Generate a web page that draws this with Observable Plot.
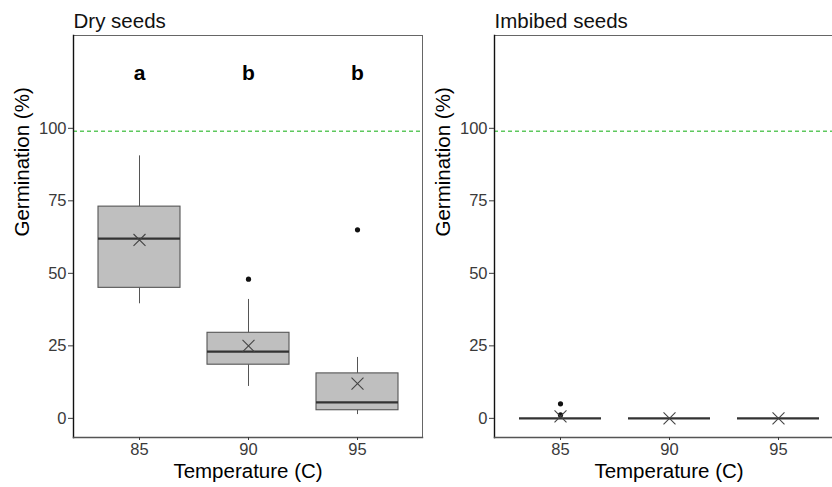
<!DOCTYPE html>
<html>
<head>
<meta charset="utf-8">
<script src="https://cdn.jsdelivr.net/npm/d3@7"></script>
<script src="https://cdn.jsdelivr.net/npm/@observablehq/plot@0.6"></script>
<style>
  html, body { margin: 0; padding: 0; background: #fff; }
  #wrap { width: 832px; height: 487px; overflow: hidden; display: flex; flex-wrap: nowrap; }
  #wrap svg { flex: none; }
</style>
</head>
<body>
<div id="wrap"></div>
<script>
// ---- data ----
const temps = ["85", "90", "95"];
const yTicks = [0, 25, 50, 75, 100];
const referenceLine = 99;
const panelTitles = ["Dry seeds", "Imbibed seeds"];
const xTitle = "Temperature (C)";
const yTitle = "Germination (%)";

// Dry seeds
const dryLower  = [39.5, 11, 1.3];
const dryQ1     = [45, 18.5, 2.8];
const dryMedian = [62, 23, 5.5];
const dryQ3     = [73, 29.5, 15.5];
const dryUpper  = [90.5, 41, 21];
const dryMean   = [61.5, 25, 12];
const dryOutlierTemps  = ["90", "95"];
const dryOutlierValues = [48, 65];
const dryLetters = ["a", "b", "b"];
const letterY = 119;

// Imbibed seeds
const impLower  = [0, 0, 0];
const impQ1     = [0, 0, 0];
const impMedian = [0, 0, 0];
const impQ3     = [0, 0, 0];
const impUpper  = [0, 0, 0];
const impMean   = [0.7, 0, 0];
const impOutlierTemps  = ["85", "85"];
const impOutlierValues = [5, 1.2];

function table(lower, q1, med, q3, upper, mean) {
  return temps.map((t, i) => ({temp: t, lo: lower[i], q1: q1[i], med: med[i], q3: q3[i], hi: upper[i], mean: mean[i]}));
}

const FONT = "'Liberation Sans', Arial, sans-serif";

function panel({title, data, outliers, letters, marginLeft, marginRight, width}) {
  const marks = [
    Plot.ruleY([referenceLine], {stroke: "#5ec85e", strokeWidth: 1.4, strokeDasharray: "4,3"}),
    // whiskers
    Plot.ruleX(data, {x: "temp", y1: "q3", y2: "hi", stroke: "#555", strokeWidth: 1}),
    Plot.ruleX(data, {x: "temp", y1: "lo", y2: "q1", stroke: "#555", strokeWidth: 1}),
    // boxes
    Plot.barY(data, {x: "temp", y1: "q1", y2: "q3", fill: "#bfbfbf", stroke: "#555", strokeWidth: 1.1}),
    // medians
    Plot.tickY(data, {x: "temp", y: "med", stroke: "#333", strokeWidth: 2.2}),
    // outliers
    Plot.dot(outliers, {x: "temp", y: "v", r: 2.6, fill: "#111", stroke: null}),
    // means
    Plot.dot(data, {x: "temp", y: "mean", symbol: "times", r: 5.5, stroke: "#444", strokeWidth: 1.1}),
    // frame and axes
    Plot.frame({stroke: "#666", strokeWidth: 1}),
    Plot.frame({anchor: "left", stroke: "#111", strokeWidth: 1.4}),
    Plot.frame({anchor: "bottom", stroke: "#555", strokeWidth: 1.4}),
    Plot.axisY({ticks: yTicks, tickSize: 5, tickPadding: 2, fontSize: 16.5, color: "#3a3a3a", label: null}),
    Plot.axisX({tickSize: 3, tickPadding: 3, fontSize: 16.5, color: "#3a3a3a", label: null}),
    Plot.text([xTitle], {frameAnchor: "bottom", lineAnchor: "middle", dy: 34, fontSize: 20.5, fill: "#000"}),
    Plot.text([yTitle], {frameAnchor: "left", lineAnchor: "middle", rotate: -90, dx: -51, fontSize: 20.5, fill: "#000"}),
    Plot.text([title], {frameAnchor: "top-left", textAnchor: "start", lineAnchor: "bottom", dy: -8, fontSize: 20.5, fill: "#111"})
  ];
  if (letters) {
    marks.push(Plot.text(temps.map((t, i) => ({temp: t, lab: letters[i]})),
      {x: "temp", y: () => letterY, text: "lab", fontSize: 21, fontWeight: "bold", fill: "#000"}));
  }
  return Plot.plot({
    width, height: 487,
    marginLeft, marginRight, marginTop: 35, marginBottom: 50,
    style: {fontFamily: FONT, overflow: "visible", background: "transparent"},
    x: {type: "band", domain: temps, paddingInner: 0.25, paddingOuter: 0.225, axis: null},
    y: {domain: [-6.6, 132], axis: null},
    marks
  });
}

const wrap = document.getElementById("wrap");
wrap.appendChild(panel({
  title: panelTitles[0],
  data: table(dryLower, dryQ1, dryMedian, dryQ3, dryUpper, dryMean),
  outliers: dryOutlierTemps.map((t, i) => ({temp: t, v: dryOutlierValues[i]})),
  letters: dryLetters,
  marginLeft: 73, marginRight: 8, width: 430
}));
wrap.appendChild(panel({
  title: panelTitles[1],
  data: table(impLower, impQ1, impMedian, impQ3, impUpper, impMean),
  outliers: impOutlierTemps.map((t, i) => ({temp: t, v: impOutlierValues[i]})),
  letters: null,
  marginLeft: 64, marginRight: 0, width: 413
}));
</script>
</body>
</html>
